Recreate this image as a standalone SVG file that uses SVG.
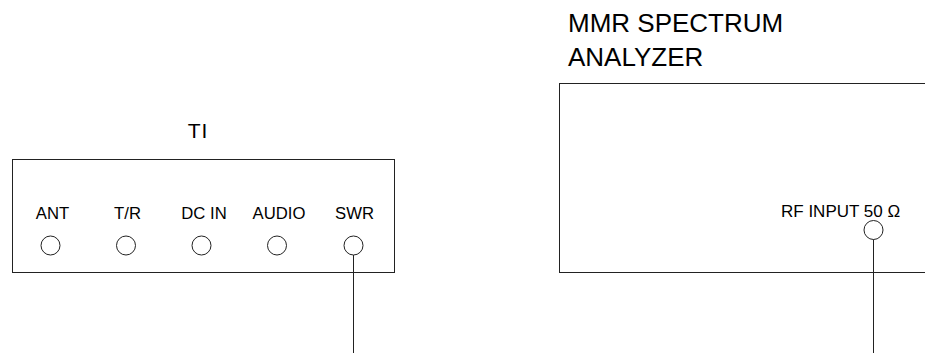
<svg xmlns="http://www.w3.org/2000/svg" width="925" height="353" viewBox="0 0 925 353">
<style>
text{font-family:"Liberation Sans",Arial,sans-serif;fill:#000}
.box{fill:#fff;stroke:#222;stroke-width:1}
.port{fill:#fff;stroke:#222;stroke-width:1}
.lbl{font-size:16.7px;text-anchor:middle}
.wire{stroke:#222;stroke-width:1;fill:none}
</style>
<rect width="925" height="353" fill="#fff"/>
<g id="ti">
<text x="198" y="137.5" font-size="21" letter-spacing="1" text-anchor="middle">TI</text>
<rect class="box" x="12.5" y="159.5" width="382" height="113"/>
<text class="lbl" x="52.5" y="218.5">ANT</text>
<text class="lbl" x="127.5" y="218.5">T/R</text>
<text class="lbl" x="204" y="218.5">DC IN</text>
<text class="lbl" x="279" y="218.5">AUDIO</text>
<text class="lbl" x="354.5" y="218.5">SWR</text>
<circle class="port" cx="50.5" cy="245.5" r="9.5"/>
<circle class="port" cx="126" cy="245.5" r="9.5"/>
<circle class="port" cx="201.5" cy="245.5" r="9.5"/>
<circle class="port" cx="277" cy="245.5" r="9.5"/>
<circle class="port" cx="353.5" cy="245.5" r="9.5"/>
</g>
<g id="mmr">
<text x="568" y="31.5" font-size="26">MMR SPECTRUM</text>
<text x="568" y="65.5" font-size="26">ANALYZER</text>
<rect class="box" x="559.5" y="83.5" width="380" height="189"/>
<text x="781" y="216.5" font-size="17">RF INPUT 50 Ω</text>
<circle class="port" cx="873.5" cy="230" r="9.5"/>
</g>
<g id="connectors">
<line class="wire" x1="353.5" y1="255" x2="353.5" y2="353"/>
<line class="wire" x1="873.5" y1="239.5" x2="873.5" y2="353"/>
</g>
</svg>
